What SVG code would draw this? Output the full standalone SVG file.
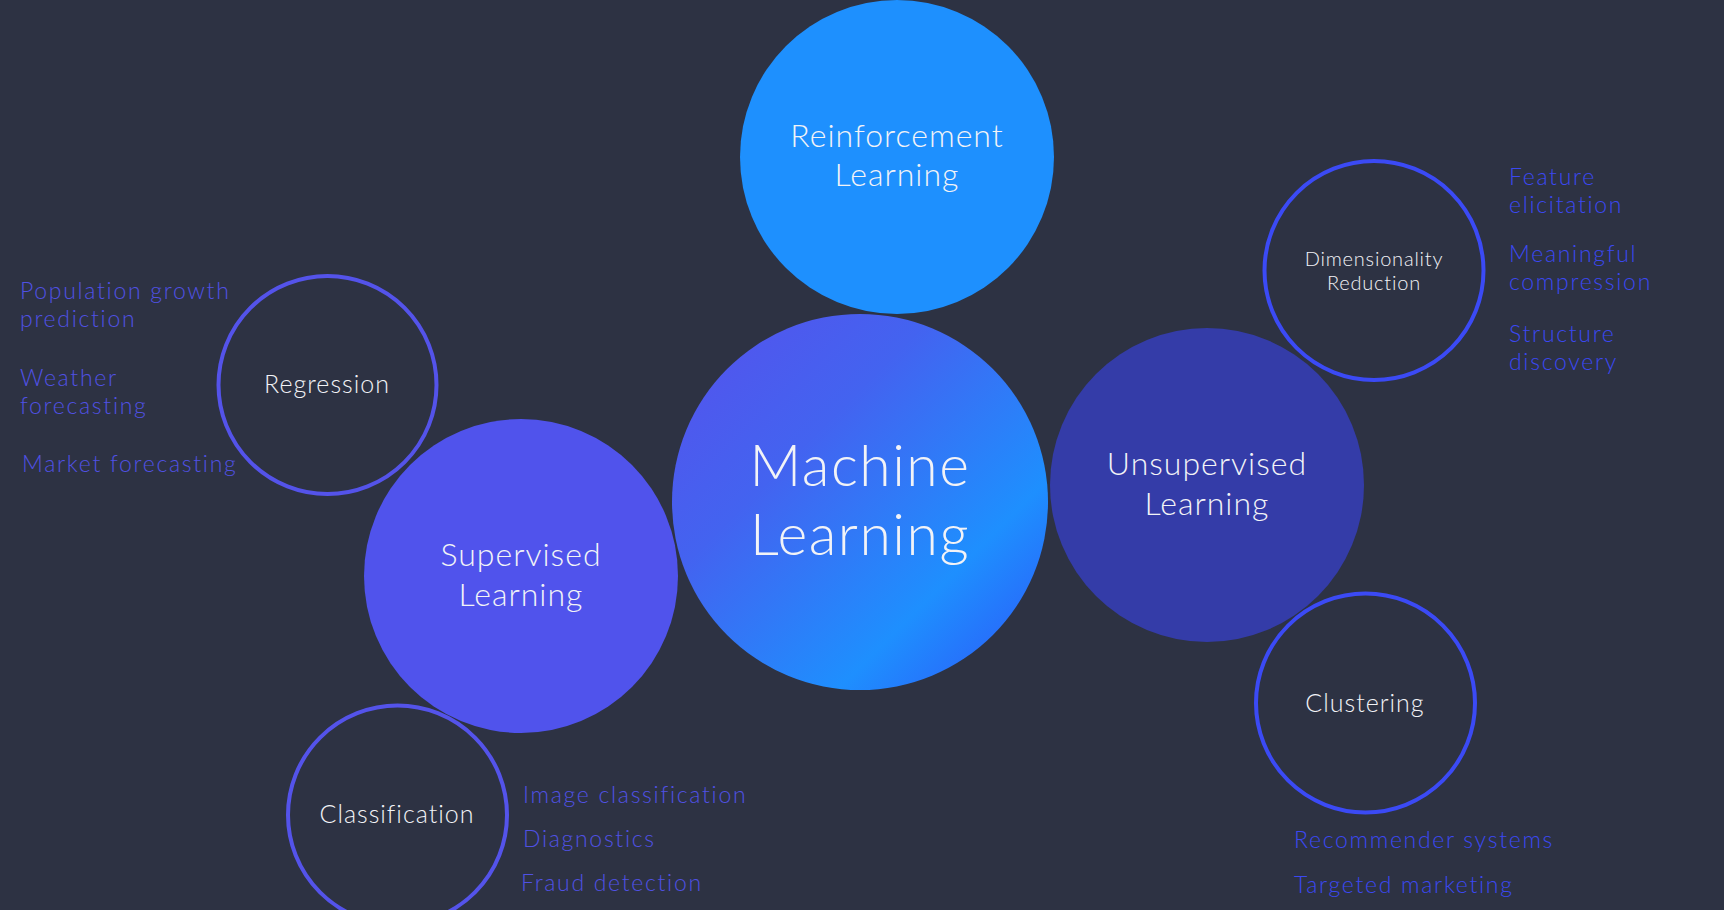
<svg xmlns="http://www.w3.org/2000/svg" width="1724" height="910" viewBox="0 0 1724 910">
<defs>
<linearGradient id="mlGrad" x1="0" y1="0" x2="1" y2="1">
<stop offset="0" stop-color="#5651ec"/>
<stop offset="0.35" stop-color="#4363f0"/>
<stop offset="0.72" stop-color="#1e8ffe"/>
<stop offset="1" stop-color="#2f52f8"/>
</linearGradient>
<style>
.t{font-family:Lato,"Open Sans","Liberation Sans",sans-serif;font-weight:300;}
.s{font-family:Lato,"Open Sans","Liberation Sans",sans-serif;font-weight:300;font-size:23px;letter-spacing:1.7px;}
.w{fill:#f2f3f7;text-anchor:middle;}
.big{font-size:57px;letter-spacing:1.5px;}
.mid{font-size:32px;letter-spacing:1px;}
.sm{font-size:25px;letter-spacing:1px;}
.xs{font-size:20px;letter-spacing:0.8px;}
.lp{fill:#5051e3;}
.lb{fill:#3b48f2;}
.ring{fill:#2d3243;stroke-width:4;}
.rp{stroke:#5453ea;}
.rb{stroke:#3b4af5;}
</style>
</defs>
<rect width="1724" height="910" fill="#2d3243"/>
<g id="connectors"/>
<g id="reinforcement">
<circle cx="897" cy="157" r="157" fill="#1e90fe"/>
<text class="t w mid"><tspan x="897" y="147">Reinforcement</tspan><tspan x="897" y="186">Learning</tspan></text>
</g>
<g id="supervised">
<circle cx="521" cy="576" r="157" fill="#5053ec"/>
<text class="t w mid"><tspan x="521" y="566">Supervised</tspan><tspan x="521" y="606">Learning</tspan></text>
</g>
<g id="unsupervised">
<circle cx="1207" cy="485" r="157" fill="#343ca8"/>
<text class="t w mid"><tspan x="1207" y="475">Unsupervised</tspan><tspan x="1207" y="515">Learning</tspan></text>
</g>
<g id="machine-learning">
<circle cx="860" cy="502" r="188" fill="url(#mlGrad)"/>
<text class="t w big"><tspan x="860" y="486">Machine</tspan><tspan x="860" y="555">Learning</tspan></text>
</g>
<g id="regression">
<circle class="ring rp" cx="327.5" cy="385" r="109"/>
<text class="t w sm" x="327" y="393">Regression</text>
<text class="s lp"><tspan x="20" y="299">Population growth</tspan><tspan x="20" y="327">prediction</tspan></text>
<text class="s lp"><tspan x="20" y="386">Weather</tspan><tspan x="20" y="414">forecasting</tspan></text>
<text class="s lp" x="22" y="472">Market forecasting</text>
</g>
<g id="classification">
<circle class="ring rp" cx="397.5" cy="815" r="109.5"/>
<text class="t w sm" x="397" y="823">Classification</text>
<text class="s lp" x="523" y="803">Image classification</text>
<text class="s lp" x="523" y="847">Diagnostics</text>
<text class="s lp" x="521" y="891">Fraud detection</text>
</g>
<g id="dimensionality-reduction">
<circle class="ring rb" cx="1374" cy="270.5" r="109.5"/>
<text class="t w xs"><tspan x="1374" y="266">Dimensionality</tspan><tspan x="1374" y="290">Reduction</tspan></text>
<text class="s lb"><tspan x="1509" y="185">Feature</tspan><tspan x="1509" y="213">elicitation</tspan></text>
<text class="s lb"><tspan x="1509" y="262">Meaningful</tspan><tspan x="1509" y="290">compression</tspan></text>
<text class="s lb"><tspan x="1509" y="342">Structure</tspan><tspan x="1509" y="370">discovery</tspan></text>
</g>
<g id="clustering">
<circle class="ring rb" cx="1365.5" cy="703" r="109.5"/>
<text class="t w sm" x="1365" y="712">Clustering</text>
<text class="s lb" x="1294" y="848">Recommender systems</text>
<text class="s lb" x="1294" y="893">Targeted marketing</text>
</g>
</svg>
